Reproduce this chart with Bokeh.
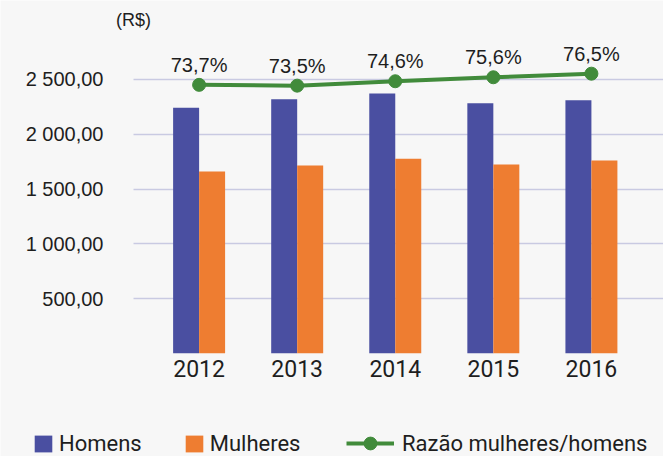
from bokeh.plotting import figure
from bokeh.models import (ColumnDataSource, Range1d, FixedTicker, Legend, LegendItem, Label)
from bokeh.transform import dodge
from bokeh.core.properties import value
from bokeh.embed import file_html
from bokeh.resources import INLINE

years = ["2012", "2013", "2014", "2015", "2016"]
homens = [2242, 2320, 2372, 2284, 2311]
mulheres = [1661, 1715, 1776, 1724, 1761]
razao = [73.7, 73.5, 74.6, 75.6, 76.5]
razao_labels = ["73,7%", "73,5%", "74,6%", "75,6%", "76,5%"]
y_ticks = [500, 1000, 1500, 2000, 2500]
y_tick_labels = ["500,00", "1 000,00", "1 500,00", "2 000,00", "2 500,00"]

BLUE = "#4a4fa1"
ORANGE = "#ee7d31"
GREEN = "#418b3b"
BG = "#f7f7f7"
TXT = "#1e1e1e"
NARROW = "Roboto"
SANS = "Liberation Sans"

X0, X1 = -0.669, 4.735  # visible plot area (where the grid runs)

idx = list(range(len(years)))
src = ColumnDataSource(dict(x=idx, homens=homens, mulheres=mulheres,
                            razao=razao, lab=razao_labels))

p = figure(width=663, height=456, output_backend="svg", toolbar_location=None,
           x_range=Range1d(-2.025, X1), y_range=Range1d(-942, 3221),
           min_border=0, min_border_left=0, min_border_right=0,
           min_border_top=0, min_border_bottom=0)
p.extra_y_ranges = {"ratio": Range1d(-19.45, 94.84)}

p.background_fill_color = BG
p.border_fill_color = BG
p.outline_line_color = None

bw = 0.265
r_h = p.vbar(x=dodge("x", -bw / 2, range=p.x_range), top="homens", width=bw,
             source=src, fill_color=BLUE, line_color=None)
r_m = p.vbar(x=dodge("x", bw / 2, range=p.x_range), top="mulheres", width=bw,
             source=src, fill_color=ORANGE, line_color=None)

r_l = p.line(x="x", y="razao", source=src, y_range_name="ratio",
             line_color=GREEN, line_width=4)
r_s = p.scatter(x="x", y="razao", source=src, y_range_name="ratio",
                size=13, fill_color=GREEN, line_color=GREEN)
p.text(x="x", y="razao", text="lab", source=src, y_range_name="ratio",
       y_offset=-20, text_align="center", text_baseline="alphabetic",
       text_font=value(SANS), text_font_size="20px", text_color=TXT)

# axes drawn at fixed locations inside the canvas
xa = p.xaxis[0]
xa.fixed_location = 0
xa.ticker = FixedTicker(ticks=idx)
xa.major_label_overrides = {i: y for i, y in zip(idx, years)}
xa.axis_line_color = None
xa.major_tick_line_color = None
xa.minor_tick_line_color = None
xa.major_tick_out = 0
xa.major_label_standoff = 7
xa.major_label_text_font = NARROW
xa.major_label_text_font_size = "23px"
xa.major_label_text_color = TXT

ya = p.yaxis[0]
ya.fixed_location = X0
ya.ticker = FixedTicker(ticks=y_ticks)
ya.major_label_overrides = {t: l for t, l in zip(y_ticks, y_tick_labels)}
ya.axis_line_color = None
ya.major_tick_line_color = None
ya.minor_tick_line_color = None
ya.major_tick_out = 0
ya.major_label_standoff = 30
ya.major_label_text_font = SANS
ya.major_label_text_font_size = "20px"
ya.major_label_text_color = TXT

p.xgrid.grid_line_color = None
yg = p.ygrid[0]
yg.grid_line_color = "#c9cae2"
yg.grid_line_width = 1.5
if hasattr(yg, "cross_bounds"):
    yg.cross_bounds = (X0, X1)

p.add_layout(Label(x=X0, y=3040, text="(R$)", text_align="center",
                   text_baseline="alphabetic", text_font=SANS,
                   text_font_size="18px", text_color=TXT))

common = dict(orientation="horizontal", padding=0, margin=0,
              border_line_color=None, background_fill_alpha=0,
              label_text_font=NARROW, label_text_font_size="22px",
              label_text_color=TXT)
leg1 = Legend(items=[LegendItem(label="Homens", renderers=[r_h]),
                     LegendItem(label="Mulheres", renderers=[r_m])],
              location=(32, 0), glyph_width=22, glyph_height=21,
              label_standoff=5, spacing=41, **common)
leg2 = Legend(items=[LegendItem(label="Razão mulheres/homens", renderers=[r_l, r_s])],
              location=(346, -3), glyph_width=48, glyph_height=32,
              label_standoff=8, spacing=0, **common)
p.add_layout(leg1)
p.add_layout(leg2)

open("out.html", "w").write(file_html(p, INLINE))
